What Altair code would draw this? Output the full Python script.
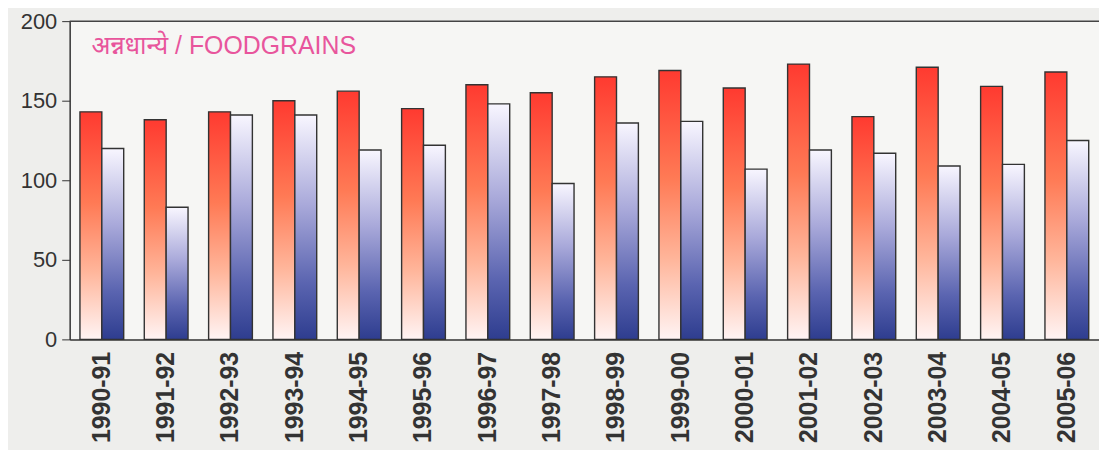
import altair as alt
import pandas as pd

years = ["1990-91", "1991-92", "1992-93", "1993-94", "1994-95", "1995-96",
         "1996-97", "1997-98", "1998-99", "1999-00", "2000-01", "2001-02",
         "2002-03", "2003-04", "2004-05", "2005-06"]
series_red = [143, 138, 143, 150, 156, 145, 160, 155, 165, 169, 158, 173, 140, 171, 159, 168]
series_blue = [120, 83, 141, 141, 119, 122, 148, 98, 136, 137, 107, 119, 117, 109, 110, 125]
y_ticks = [0, 50, 100, 150, 200]
title_text = "अन्नधान्ये / FOODGRAINS"

df = pd.DataFrame({"year": years, "red": series_red, "blue": series_blue})

red_grad = {"gradient": "linear", "x1": 0, "y1": 0, "x2": 0, "y2": 1,
            "stops": [{"offset": 0, "color": "#ff3a30"},
                      {"offset": 0.4, "color": "#ff7a55"},
                      {"offset": 0.7, "color": "#ffb59a"},
                      {"offset": 1, "color": "#fff4f4"}]}
blue_grad = {"gradient": "linear", "x1": 0, "y1": 0, "x2": 0, "y2": 1,
             "stops": [{"offset": 0, "color": "#f8f6ff"},
                       {"offset": 0.4, "color": "#a9a9da"},
                       {"offset": 0.75, "color": "#5a64b0"},
                       {"offset": 1, "color": "#2e3d8f"}]}

x_enc = alt.X("year:N", sort=years, title=None,
              scale=alt.Scale(paddingInner=0, paddingOuter=0),
              axis=alt.Axis(labelAngle=-90, ticks=False, labelPadding=12,
                            labelFontSize=25, labelFontWeight="bold",
                            labelColor="#333333", labelFont="Liberation Sans",
                            domainColor="#333333", domainWidth=1.5,
                            labelAlign="right", labelBaseline="middle"))
y_scale = alt.Scale(domain=[0, 200], nice=False)

base = alt.Chart(df)

red_bars = base.mark_bar(width=22, xOffset=-11, fill=red_grad, stroke="#333333",
                         strokeWidth=1.4).encode(
    x=x_enc,
    y=alt.Y("red:Q", scale=y_scale, title=None,
            axis=alt.Axis(values=y_ticks, grid=False, tickSize=8, labelPadding=5,
                          labelFontSize=22, labelColor="#333333",
                          labelFont="Liberation Sans", tickColor="#333333",
                          domainColor="#333333", domainWidth=1.5)),
)
blue_bars = base.mark_bar(width=22, xOffset=11, fill=blue_grad, stroke="#333333",
                          strokeWidth=1.4).encode(
    x=alt.X("year:N", sort=years),
    y=alt.Y("blue:Q", scale=y_scale),
)

top_rule = alt.Chart(pd.DataFrame({"v": [200]})).mark_rule(
    color="#444444", strokeWidth=1.5).encode(y=alt.Y("v:Q", scale=y_scale))

label = alt.Chart(pd.DataFrame({"t": [title_text]})).mark_text(
    align="left", baseline="middle", fontSize=25, color="#e8559c",
    font="Liberation Sans, Noto Sans, Noto Sans Devanagari, sans-serif").encode(
    x=alt.value(22), y=alt.value(25), text="t:N")

chart = alt.layer(red_bars, blue_bars, top_rule, label).properties(
    width=1035, height=320,
    autosize=alt.AutoSizeParams(type="none"),
    padding={"left": 62, "top": 12, "right": 0, "bottom": 110},
    background="#eeeeec",
).configure_view(stroke=None, fill="#f6f6f4")

chart.save("out.html", embed_options={"renderer": "svg", "actions": False})
